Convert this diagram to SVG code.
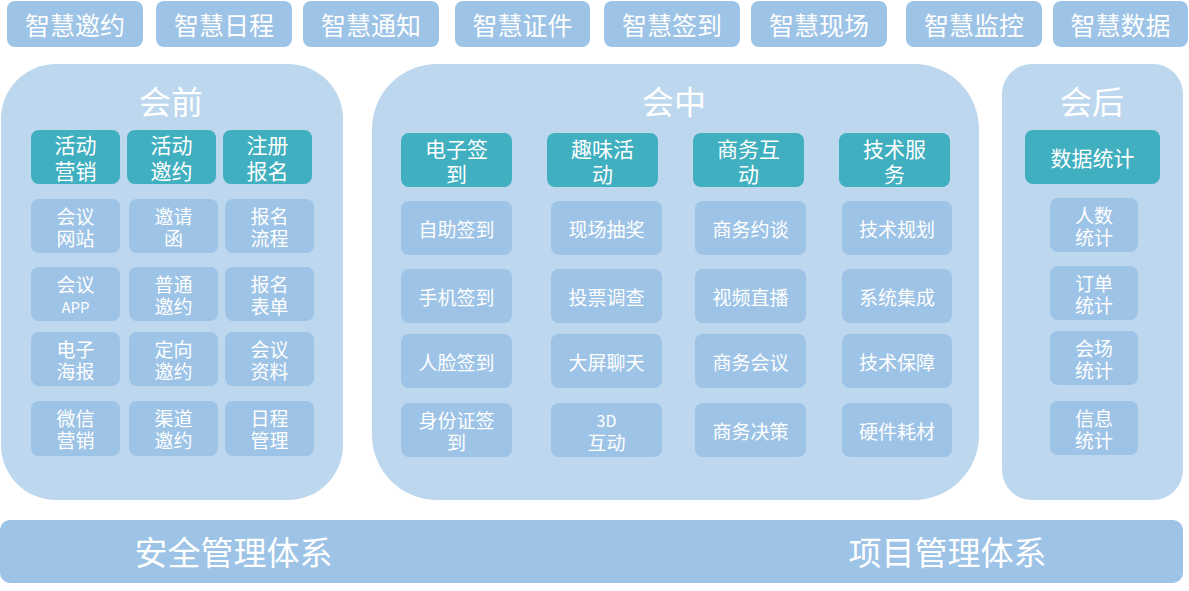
<svg xmlns="http://www.w3.org/2000/svg" width="1189" height="591" viewBox="0 0 1189 591">
<style>
text{font-family:"Noto Sans CJK SC","Noto Sans",sans-serif;fill:#FFFFFF;text-anchor:middle;dominant-baseline:central}
.top{fill:#9DC3E6}
.panel{fill:#BDD7EE}
.item{fill:#9DC3E6}
.head{fill:#40AFBF}
.bar{fill:#9DC3E6}
.t25{font-size:25px}
.t32{font-size:32px}
.t33{font-size:33px}
.t21{font-size:21px}
.t19{font-size:19px}
.t16{font-size:16px}
.t15{font-size:15px}
</style>
<rect width="1189" height="591" fill="#FFFFFF"/>
<g id="top-row">
<g id="n-zhyy"><rect class="top" x="7" y="1" width="136" height="46" rx="8"/><text class="t25" x="75" y="24">智慧邀约</text></g>
<g id="n-zhrc"><rect class="top" x="156" y="1" width="136" height="46" rx="8"/><text class="t25" x="224" y="24">智慧日程</text></g>
<g id="n-zhtz"><rect class="top" x="303" y="1" width="136" height="46" rx="8"/><text class="t25" x="371" y="24">智慧通知</text></g>
<g id="n-zhzj"><rect class="top" x="455" y="1" width="135" height="46" rx="8"/><text class="t25" x="522.5" y="24">智慧证件</text></g>
<g id="n-zhqd"><rect class="top" x="604" y="1" width="136" height="46" rx="8"/><text class="t25" x="672" y="24">智慧签到</text></g>
<g id="n-zhxc"><rect class="top" x="751" y="1" width="136" height="46" rx="8"/><text class="t25" x="819" y="24">智慧现场</text></g>
<g id="n-zhjk"><rect class="top" x="906" y="1" width="136" height="46" rx="8"/><text class="t25" x="974" y="24">智慧监控</text></g>
<g id="n-zhsj"><rect class="top" x="1053" y="1" width="135" height="46" rx="8"/><text class="t25" x="1120.5" y="24">智慧数据</text></g>
</g>

<g id="panel-before">
<rect class="panel" x="1" y="64" width="342" height="436" rx="55"/>
<text class="t32" x="171" y="100">会前</text>
<g id="h-hdyx"><rect class="head" x="31" y="130" width="89" height="54" rx="8"/><text class="t21"><tspan x="75.5" y="144">活动</tspan><tspan x="75.5" y="170">营销</tspan></text></g>
<g id="h-hdyy"><rect class="head" x="127" y="130" width="89" height="54" rx="8"/><text class="t21"><tspan x="171.5" y="144">活动</tspan><tspan x="171.5" y="170">邀约</tspan></text></g>
<g id="h-zcbm"><rect class="head" x="223" y="130" width="89" height="54" rx="8"/><text class="t21"><tspan x="267.5" y="144">注册</tspan><tspan x="267.5" y="170">报名</tspan></text></g>

<g id="i-hywz"><rect class="item" x="31" y="199" width="89" height="54" rx="8"/><text class="t19"><tspan x="75.5" y="215">会议</tspan><tspan x="75.5" y="237">网站</tspan></text></g>
<g id="i-yqh"><rect class="item" x="129" y="199" width="89" height="54" rx="8"/><text class="t19"><tspan x="173.5" y="215">邀请</tspan><tspan x="173.5" y="237">函</tspan></text></g>
<g id="i-bmlc"><rect class="item" x="225" y="199" width="89" height="54" rx="8"/><text class="t19"><tspan x="269.5" y="215">报名</tspan><tspan x="269.5" y="237">流程</tspan></text></g>

<g id="i-hyapp"><rect class="item" x="31" y="267" width="89" height="54" rx="8"/><text class="t19"><tspan x="75.5" y="283">会议</tspan><tspan class="t15" x="75.5" y="306">APP</tspan></text></g>
<g id="i-ptyy"><rect class="item" x="129" y="267" width="89" height="54" rx="8"/><text class="t19"><tspan x="173.5" y="283">普通</tspan><tspan x="173.5" y="305">邀约</tspan></text></g>
<g id="i-bmbd"><rect class="item" x="225" y="267" width="89" height="54" rx="8"/><text class="t19"><tspan x="269.5" y="283">报名</tspan><tspan x="269.5" y="305">表单</tspan></text></g>

<g id="i-dzhb"><rect class="item" x="31" y="332" width="89" height="54" rx="8"/><text class="t19"><tspan x="75.5" y="348">电子</tspan><tspan x="75.5" y="370">海报</tspan></text></g>
<g id="i-dxyy"><rect class="item" x="129" y="332" width="89" height="54" rx="8"/><text class="t19"><tspan x="173.5" y="348">定向</tspan><tspan x="173.5" y="370">邀约</tspan></text></g>
<g id="i-hyzl"><rect class="item" x="225" y="332" width="89" height="54" rx="8"/><text class="t19"><tspan x="269.5" y="348">会议</tspan><tspan x="269.5" y="370">资料</tspan></text></g>

<g id="i-wxyx"><rect class="item" x="31" y="401" width="89" height="55" rx="8"/><text class="t19"><tspan x="75.5" y="417">微信</tspan><tspan x="75.5" y="439">营销</tspan></text></g>
<g id="i-qdyy"><rect class="item" x="129" y="401" width="89" height="55" rx="8"/><text class="t19"><tspan x="173.5" y="417">渠道</tspan><tspan x="173.5" y="439">邀约</tspan></text></g>
<g id="i-rcgl"><rect class="item" x="225" y="401" width="89" height="55" rx="8"/><text class="t19"><tspan x="269.5" y="417">日程</tspan><tspan x="269.5" y="439">管理</tspan></text></g>
</g>

<g id="panel-during">
<rect class="panel" x="372" y="64" width="607" height="436" rx="65"/>
<text class="t32" x="674" y="100">会中</text>
<g id="h-dzqd"><rect class="head" x="401" y="133" width="111" height="54" rx="8"/><text class="t21"><tspan x="456.5" y="148">电子签</tspan><tspan x="456.5" y="173">到</tspan></text></g>
<g id="h-qwhd"><rect class="head" x="547" y="133" width="111" height="54" rx="8"/><text class="t21"><tspan x="602.5" y="148">趣味活</tspan><tspan x="602.5" y="173">动</tspan></text></g>
<g id="h-swhd"><rect class="head" x="693" y="133" width="111" height="54" rx="8"/><text class="t21"><tspan x="748.5" y="148">商务互</tspan><tspan x="748.5" y="173">动</tspan></text></g>
<g id="h-jsfw"><rect class="head" x="839" y="133" width="111" height="54" rx="8"/><text class="t21"><tspan x="894.5" y="148">技术服</tspan><tspan x="894.5" y="173">务</tspan></text></g>

<g id="i-zzqd"><rect class="item" x="401" y="201" width="111" height="54" rx="8"/><text class="t19" x="456.5" y="228">自助签到</text></g>
<g id="i-xccj"><rect class="item" x="551" y="201" width="111" height="54" rx="8"/><text class="t19" x="606.5" y="228">现场抽奖</text></g>
<g id="i-swyt"><rect class="item" x="695" y="201" width="111" height="54" rx="8"/><text class="t19" x="750.5" y="228">商务约谈</text></g>
<g id="i-jsgh"><rect class="item" x="842" y="201" width="110" height="54" rx="8"/><text class="t19" x="897" y="228">技术规划</text></g>

<g id="i-sjqd"><rect class="item" x="401" y="269" width="111" height="54" rx="8"/><text class="t19" x="456.5" y="296">手机签到</text></g>
<g id="i-tpdc"><rect class="item" x="551" y="269" width="111" height="54" rx="8"/><text class="t19" x="606.5" y="296">投票调查</text></g>
<g id="i-spzb"><rect class="item" x="695" y="269" width="111" height="54" rx="8"/><text class="t19" x="750.5" y="296">视频直播</text></g>
<g id="i-xtjc"><rect class="item" x="842" y="269" width="110" height="54" rx="8"/><text class="t19" x="897" y="296">系统集成</text></g>

<g id="i-rlqd"><rect class="item" x="401" y="334" width="111" height="54" rx="8"/><text class="t19" x="456.5" y="361">人脸签到</text></g>
<g id="i-dplt"><rect class="item" x="551" y="334" width="111" height="54" rx="8"/><text class="t19" x="606.5" y="361">大屏聊天</text></g>
<g id="i-swhy"><rect class="item" x="695" y="334" width="111" height="54" rx="8"/><text class="t19" x="750.5" y="361">商务会议</text></g>
<g id="i-jsbz"><rect class="item" x="842" y="334" width="110" height="54" rx="8"/><text class="t19" x="897" y="361">技术保障</text></g>

<g id="i-sfzqd"><rect class="item" x="401" y="403" width="111" height="54" rx="8"/><text class="t19"><tspan x="456.5" y="419">身份证签</tspan><tspan x="456.5" y="441">到</tspan></text></g>
<g id="i-3dhd"><rect class="item" x="551" y="403" width="111" height="54" rx="8"/><text class="t19"><tspan class="t16" x="606.5" y="420">3D</tspan><tspan x="606.5" y="441">互动</tspan></text></g>
<g id="i-swjc"><rect class="item" x="695" y="403" width="111" height="54" rx="8"/><text class="t19" x="750.5" y="430">商务决策</text></g>
<g id="i-yjhc"><rect class="item" x="842" y="403" width="110" height="54" rx="8"/><text class="t19" x="897" y="430">硬件耗材</text></g>
</g>

<g id="panel-after">
<rect class="panel" x="1002" y="64" width="181" height="436" rx="30"/>
<text class="t32" x="1092" y="100">会后</text>
<g id="h-sjtj"><rect class="head" x="1025" y="130" width="135" height="54" rx="8"/><text class="t21" x="1092.5" y="157">数据统计</text></g>
<g id="i-rstj"><rect class="item" x="1050" y="198" width="88" height="54" rx="8"/><text class="t19"><tspan x="1094" y="214">人数</tspan><tspan x="1094" y="236">统计</tspan></text></g>
<g id="i-ddtj"><rect class="item" x="1050" y="266" width="88" height="54" rx="8"/><text class="t19"><tspan x="1094" y="282">订单</tspan><tspan x="1094" y="304">统计</tspan></text></g>
<g id="i-hctj"><rect class="item" x="1050" y="331" width="88" height="54" rx="8"/><text class="t19"><tspan x="1094" y="347">会场</tspan><tspan x="1094" y="369">统计</tspan></text></g>
<g id="i-xxtj"><rect class="item" x="1050" y="401" width="88" height="54" rx="8"/><text class="t19"><tspan x="1094" y="417">信息</tspan><tspan x="1094" y="439">统计</tspan></text></g>
</g>

<g id="bottom-bar">
<rect class="bar" x="0" y="520" width="1183" height="63" rx="10"/>
<text class="t33" x="233.5" y="551">安全管理体系</text>
<text class="t33" x="947.5" y="551">项目管理体系</text>
</g>
<g id="connectors"/>
</svg>
